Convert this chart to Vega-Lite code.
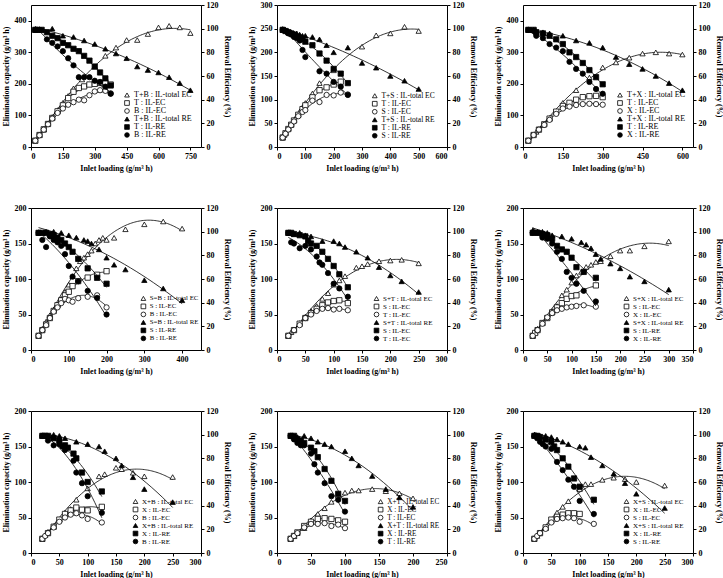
{
"$schema":"https://vega.github.io/schema/vega-lite/v6.json",
"padding":{"left":1,"top":0,"right":0,"bottom":0},
"background":"white",
"config":{
 "font":"Liberation Serif",
 "view":{"stroke":"black","strokeWidth":1},
 "axis":{"labelFont":"Liberation Serif","labelFontSize":8,"labelFontWeight":"bold","labelColor":"black","titleFont":"Liberation Serif","titleFontSize":8,"titleFontWeight":"bold","titleColor":"black","grid":false,"domain":false,"tickColor":"black","tickSize":3,"labelPadding":2,"titlePadding":4},
 "legend":{"labelFont":"Liberation Serif","labelFontSize":7,"labelColor":"black","symbolSize":22,"rowPadding":-6,"padding":0,"symbolStrokeWidth":0.8,"symbolStrokeColor":"black","labelOffset":3,"orient":"none","title":null},
 "line":{"color":"black","strokeWidth":0.8}
},
"columns":3,
"spacing":{"row":61,"column":76},
"bounds":"flush",
"resolve":{"scale":{"shape":"independent","fill":"independent","stroke":"independent"},"legend":{"shape":"independent","fill":"independent","stroke":"independent"}},
"concat":[
{"width":170,"height":142,
 "data":{"values":[
{"s":0,"x":20,"v":20},{"s":0,"x":40,"v":38},{"s":0,"x":60,"v":55},{"s":0,"x":80,"v":75},{"s":0,"x":100,"v":95},{"s":0,"x":125,"v":117},{"s":0,"x":150,"v":140},{"s":0,"x":175,"v":162},{"s":0,"x":200,"v":186},{"s":0,"x":240,"v":214},{"s":0,"x":300,"v":255},{"s":0,"x":350,"v":289},{"s":0,"x":400,"v":315},{"s":0,"x":450,"v":339},{"s":0,"x":500,"v":339},{"s":0,"x":550,"v":358},{"s":0,"x":600,"v":379},{"s":0,"x":650,"v":384},{"s":0,"x":700,"v":379},{"s":0,"x":750,"v":361},
{"s":1,"x":20,"v":20},{"s":1,"x":40,"v":38},{"s":1,"x":60,"v":56},{"s":1,"x":80,"v":73},{"s":1,"x":100,"v":92},{"s":1,"x":125,"v":113},{"s":1,"x":150,"v":132},{"s":1,"x":175,"v":155},{"s":1,"x":200,"v":175},{"s":1,"x":225,"v":187},{"s":1,"x":250,"v":192},{"s":1,"x":275,"v":198},{"s":1,"x":300,"v":200},{"s":1,"x":325,"v":203},{"s":1,"x":350,"v":205},{"s":1,"x":375,"v":198},
{"s":2,"x":20,"v":20},{"s":2,"x":40,"v":37},{"s":2,"x":60,"v":55},{"s":2,"x":80,"v":72},{"s":2,"x":100,"v":90},{"s":2,"x":125,"v":108},{"s":2,"x":150,"v":122},{"s":2,"x":175,"v":134},{"s":2,"x":200,"v":142},{"s":2,"x":225,"v":150},{"s":2,"x":250,"v":148},{"s":2,"x":275,"v":164},{"s":2,"x":300,"v":176},{"s":2,"x":325,"v":180},{"s":2,"x":350,"v":178},{"s":2,"x":375,"v":170},
{"s":3,"x":20,"v":99},{"s":3,"x":50,"v":99},{"s":3,"x":100,"v":100},{"s":3,"x":150,"v":94},{"s":3,"x":200,"v":93},{"s":3,"x":250,"v":90},{"s":3,"x":300,"v":87},{"s":3,"x":350,"v":83},{"s":3,"x":400,"v":79},{"s":3,"x":450,"v":75},{"s":3,"x":500,"v":68},{"s":3,"x":550,"v":65},{"s":3,"x":600,"v":63},{"s":3,"x":650,"v":59},{"s":3,"x":700,"v":54},{"s":3,"x":750,"v":48},
{"s":4,"x":20,"v":99},{"s":4,"x":30,"v":99},{"s":4,"x":50,"v":99},{"s":4,"x":75,"v":97},{"s":4,"x":100,"v":94},{"s":4,"x":125,"v":92},{"s":4,"x":150,"v":88},{"s":4,"x":175,"v":86},{"s":4,"x":200,"v":83},{"s":4,"x":225,"v":81},{"s":4,"x":250,"v":77},{"s":4,"x":275,"v":73},{"s":4,"x":300,"v":68},{"s":4,"x":325,"v":63},{"s":4,"x":350,"v":58},{"s":4,"x":375,"v":52},
{"s":5,"x":20,"v":99},{"s":5,"x":40,"v":99},{"s":5,"x":75,"v":91},{"s":5,"x":100,"v":88},{"s":5,"x":125,"v":85},{"s":5,"x":150,"v":81},{"s":5,"x":175,"v":75},{"s":5,"x":200,"v":69},{"s":5,"x":225,"v":59},{"s":5,"x":250,"v":59},{"s":5,"x":275,"v":59},{"s":5,"x":300,"v":56},{"s":5,"x":325,"v":55},{"s":5,"x":350,"v":51},{"s":5,"x":375,"v":45}
 ]},
 "encoding":{"x":{"field":"x","type":"quantitative","scale":{"domain":[0,800],"nice":false},"axis":{"values":[0,150,300,450,600,750],"title":"Inlet loading (g/m³ h)"}}},
 "layer":[
  {"encoding":{"y":{"field":"v","type":"quantitative","scale":{"domain":[0,450],"nice":false},"axis":{"orient":"left","values":[0,100,200,300,400],"title":"Elimination capacity (g/m³ h)"}}},
   "layer":[
    {"transform":[{"filter":"datum.s<3"},{"regression":"v","on":"x","groupby":["s"],"method":"poly","order":2}],"mark":{"type":"line"},"encoding":{"detail":{"field":"s","type":"nominal"}}},
    {"transform":[{"filter":"datum.s<3"}],"mark":{"type":"point","filled":true,"strokeWidth":0.8,"size":28,"opacity":1},
     "encoding":{"shape":{"field":"s","type":"nominal","scale":{"domain":[0,1,2,3,4,5],"range":["triangle-up","square","circle","triangle-up","square","circle"]},"legend":{"legendX":92,"legendY":86,"labelFontSize":8,"labelExpr":"['T+B : IL-total EC','T : IL-EC','B : IL-EC','T+B : IL-total RE','T : IL-RE','B : IL-RE'][datum.value]"}},
                 "fill":{"field":"s","type":"nominal","scale":{"domain":[0,1,2,3,4,5],"range":["white","white","white","black","black","black"]},"legend":{"legendX":92,"legendY":86,"labelFontSize":8,"labelExpr":"['T+B : IL-total EC','T : IL-EC','B : IL-EC','T+B : IL-total RE','T : IL-RE','B : IL-RE'][datum.value]"}},
                 "stroke":{"field":"s","type":"nominal","scale":{"domain":[0,1,2,3,4,5],"range":["black","black","black","black","black","black"]},"legend":{"legendX":92,"legendY":86,"labelFontSize":8,"labelExpr":"['T+B : IL-total EC','T : IL-EC','B : IL-EC','T+B : IL-total RE','T : IL-RE','B : IL-RE'][datum.value]"}}}},
    {"data":{"values":[{}]},"mark":{"type":"text","fontSize":8,"font":"Liberation Serif"},"encoding":{"x":{"datum":70},"y":{"datum":420},"text":{"value":"(a)"}}},
    {"data":{"values":[{}]},"mark":{"type":"text","fontSize":8,"fontWeight":"bold","font":"Liberation Serif"},"encoding":{"x":{"datum":405},"y":{"datum":420},"text":{"value":"T+B"}}}
   ]},
  {"encoding":{"y":{"field":"v","type":"quantitative","scale":{"domain":[0,120],"nice":false},"axis":{"orient":"right","values":[0,20,40,60,80,100,120],"title":"Removal Efficiency (%)"}}},
   "layer":[
    {"transform":[{"filter":"datum.s>=3"},{"regression":"v","on":"x","groupby":["s"],"method":"poly","order":2}],"mark":{"type":"line"},"encoding":{"detail":{"field":"s","type":"nominal"}}},
    {"transform":[{"filter":"datum.s>=3"}],"mark":{"type":"point","filled":true,"strokeWidth":0.8,"size":28,"opacity":1},
     "encoding":{"shape":{"field":"s","type":"nominal"},"fill":{"field":"s","type":"nominal"},"stroke":{"field":"s","type":"nominal"}}}
   ]}
 ],
 "resolve":{"scale":{"y":"independent"}}
},
{"width":170,"height":142,
 "data":{"values":[
{"s":0,"x":20,"v":20},{"s":0,"x":25,"v":25},{"s":0,"x":30,"v":30},{"s":0,"x":40,"v":39},{"s":0,"x":50,"v":48},{"s":0,"x":60,"v":57},{"s":0,"x":70,"v":66},{"s":0,"x":80,"v":75},{"s":0,"x":90,"v":84},{"s":0,"x":100,"v":93},{"s":0,"x":125,"v":113},{"s":0,"x":150,"v":135},{"s":0,"x":200,"v":162},{"s":0,"x":300,"v":212},{"s":0,"x":350,"v":236},{"s":0,"x":400,"v":240},{"s":0,"x":450,"v":254},{"s":0,"x":500,"v":245},
{"s":1,"x":20,"v":20},{"s":1,"x":30,"v":29},{"s":1,"x":40,"v":38},{"s":1,"x":50,"v":47},{"s":1,"x":60,"v":56},{"s":1,"x":75,"v":68},{"s":1,"x":90,"v":80},{"s":1,"x":100,"v":88},{"s":1,"x":125,"v":105},{"s":1,"x":150,"v":120},{"s":1,"x":175,"v":126},{"s":1,"x":200,"v":132},{"s":1,"x":225,"v":138},
{"s":2,"x":20,"v":20},{"s":2,"x":30,"v":28},{"s":2,"x":40,"v":37},{"s":2,"x":50,"v":46},{"s":2,"x":60,"v":54},{"s":2,"x":75,"v":65},{"s":2,"x":90,"v":74},{"s":2,"x":100,"v":78},{"s":2,"x":125,"v":98},{"s":2,"x":150,"v":95},{"s":2,"x":175,"v":110},{"s":2,"x":200,"v":109},{"s":2,"x":225,"v":115},{"s":2,"x":250,"v":111},
{"s":3,"x":20,"v":99},{"s":3,"x":30,"v":99},{"s":3,"x":40,"v":98},{"s":3,"x":50,"v":97},{"s":3,"x":60,"v":96},{"s":3,"x":70,"v":96},{"s":3,"x":80,"v":95},{"s":3,"x":90,"v":94},{"s":3,"x":100,"v":94},{"s":3,"x":125,"v":93},{"s":3,"x":150,"v":91},{"s":3,"x":175,"v":86},{"s":3,"x":200,"v":80},{"s":3,"x":250,"v":84},{"s":3,"x":300,"v":71},{"s":3,"x":350,"v":67},{"s":3,"x":400,"v":60},{"s":3,"x":450,"v":56},{"s":3,"x":500,"v":49},
{"s":4,"x":20,"v":99},{"s":4,"x":30,"v":98},{"s":4,"x":40,"v":97},{"s":4,"x":50,"v":96},{"s":4,"x":60,"v":95},{"s":4,"x":75,"v":93},{"s":4,"x":90,"v":91},{"s":4,"x":100,"v":89},{"s":4,"x":125,"v":86},{"s":4,"x":150,"v":79},{"s":4,"x":175,"v":73},{"s":4,"x":200,"v":66},{"s":4,"x":225,"v":62},{"s":4,"x":250,"v":54},
{"s":5,"x":20,"v":99},{"s":5,"x":30,"v":98},{"s":5,"x":40,"v":96},{"s":5,"x":50,"v":95},{"s":5,"x":60,"v":93},{"s":5,"x":70,"v":92},{"s":5,"x":80,"v":90},{"s":5,"x":90,"v":82},{"s":5,"x":100,"v":76},{"s":5,"x":150,"v":64},{"s":5,"x":175,"v":62},{"s":5,"x":200,"v":55},{"s":5,"x":225,"v":51},{"s":5,"x":250,"v":44}
 ]},
 "encoding":{"x":{"field":"x","type":"quantitative","scale":{"domain":[0,600],"nice":false},"axis":{"values":[0,100,200,300,400,500,600],"title":"Inlet loading (g/m³ h)"}}},
 "layer":[
  {"encoding":{"y":{"field":"v","type":"quantitative","scale":{"domain":[0,300],"nice":false},"axis":{"orient":"left","values":[0,50,100,150,200,250,300],"title":"Elimination capacity (g/m³ h)"}}},
   "layer":[
    {"transform":[{"filter":"datum.s<3"},{"regression":"v","on":"x","groupby":["s"],"method":"poly","order":2}],"mark":{"type":"line"},"encoding":{"detail":{"field":"s","type":"nominal"}}},
    {"transform":[{"filter":"datum.s<3"}],"mark":{"type":"point","filled":true,"strokeWidth":0.8,"size":28,"opacity":1},
     "encoding":{"shape":{"field":"s","type":"nominal","scale":{"domain":[0,1,2,3,4,5],"range":["triangle-up","square","circle","triangle-up","square","circle"]},"legend":{"legendX":94,"legendY":87,"labelFontSize":7.5,"labelExpr":"['T+S : IL-total EC','T : IL-EC','S : IL-EC','T+S : IL-total RE','T : IL-RE','S : IL-RE'][datum.value]"}},
                 "fill":{"field":"s","type":"nominal","scale":{"domain":[0,1,2,3,4,5],"range":["white","white","white","black","black","black"]},"legend":{"legendX":94,"legendY":87,"labelFontSize":7.5,"labelExpr":"['T+S : IL-total EC','T : IL-EC','S : IL-EC','T+S : IL-total RE','T : IL-RE','S : IL-RE'][datum.value]"}},
                 "stroke":{"field":"s","type":"nominal","scale":{"domain":[0,1,2,3,4,5],"range":["black","black","black","black","black","black"]},"legend":{"legendX":94,"legendY":87,"labelFontSize":7.5,"labelExpr":"['T+S : IL-total EC','T : IL-EC','S : IL-EC','T+S : IL-total RE','T : IL-RE','S : IL-RE'][datum.value]"}}}},
    {"data":{"values":[{}]},"mark":{"type":"text","fontSize":8,"font":"Liberation Serif"},"encoding":{"x":{"datum":53},"y":{"datum":281},"text":{"value":"(b)"}}},
    {"data":{"values":[{}]},"mark":{"type":"text","fontSize":8,"fontWeight":"bold","font":"Liberation Serif"},"encoding":{"x":{"datum":294},"y":{"datum":281},"text":{"value":"T+S"}}}
   ]},
  {"encoding":{"y":{"field":"v","type":"quantitative","scale":{"domain":[0,120],"nice":false},"axis":{"orient":"right","values":[0,20,40,60,80,100,120],"title":"Removal Efficiency (%)"}}},
   "layer":[
    {"transform":[{"filter":"datum.s>=3"},{"regression":"v","on":"x","groupby":["s"],"method":"poly","order":2}],"mark":{"type":"line"},"encoding":{"detail":{"field":"s","type":"nominal"}}},
    {"transform":[{"filter":"datum.s>=3"}],"mark":{"type":"point","filled":true,"strokeWidth":0.8,"size":28,"opacity":1},
     "encoding":{"shape":{"field":"s","type":"nominal"},"fill":{"field":"s","type":"nominal"},"stroke":{"field":"s","type":"nominal"}}}
   ]}
 ],
 "resolve":{"scale":{"y":"independent"}}
},
{"width":170,"height":142,
 "data":{"values":[
{"s":0,"x":20,"v":20},{"s":0,"x":50,"v":48},{"s":0,"x":75,"v":70},{"s":0,"x":100,"v":92},{"s":0,"x":125,"v":112},{"s":0,"x":150,"v":140},{"s":0,"x":200,"v":180},{"s":0,"x":250,"v":220},{"s":0,"x":300,"v":252},{"s":0,"x":350,"v":268},{"s":0,"x":400,"v":283},{"s":0,"x":450,"v":296},{"s":0,"x":500,"v":300},{"s":0,"x":550,"v":296},{"s":0,"x":600,"v":293},
{"s":1,"x":20,"v":20},{"s":1,"x":40,"v":38},{"s":1,"x":60,"v":55},{"s":1,"x":80,"v":72},{"s":1,"x":100,"v":90},{"s":1,"x":125,"v":112},{"s":1,"x":150,"v":130},{"s":1,"x":175,"v":140},{"s":1,"x":200,"v":150},{"s":1,"x":225,"v":158},{"s":1,"x":250,"v":161},{"s":1,"x":275,"v":162},{"s":1,"x":300,"v":158},
{"s":2,"x":20,"v":20},{"s":2,"x":40,"v":38},{"s":2,"x":60,"v":55},{"s":2,"x":80,"v":70},{"s":2,"x":100,"v":86},{"s":2,"x":125,"v":105},{"s":2,"x":150,"v":122},{"s":2,"x":175,"v":128},{"s":2,"x":200,"v":133},{"s":2,"x":225,"v":136},{"s":2,"x":250,"v":137},{"s":2,"x":275,"v":136},{"s":2,"x":300,"v":134},
{"s":3,"x":20,"v":99},{"s":3,"x":40,"v":99},{"s":3,"x":50,"v":98},{"s":3,"x":75,"v":97},{"s":3,"x":100,"v":96},{"s":3,"x":150,"v":94},{"s":3,"x":200,"v":90},{"s":3,"x":250,"v":88},{"s":3,"x":300,"v":84},{"s":3,"x":350,"v":76},{"s":3,"x":400,"v":70},{"s":3,"x":450,"v":66},{"s":3,"x":500,"v":60},{"s":3,"x":550,"v":54},{"s":3,"x":600,"v":48},
{"s":4,"x":20,"v":99},{"s":4,"x":40,"v":99},{"s":4,"x":50,"v":97},{"s":4,"x":75,"v":96},{"s":4,"x":100,"v":94},{"s":4,"x":125,"v":91},{"s":4,"x":150,"v":87},{"s":4,"x":175,"v":80},{"s":4,"x":200,"v":76},{"s":4,"x":225,"v":71},{"s":4,"x":250,"v":65},{"s":4,"x":275,"v":59},{"s":4,"x":300,"v":53},
{"s":5,"x":20,"v":99},{"s":5,"x":40,"v":98},{"s":5,"x":50,"v":94},{"s":5,"x":75,"v":92},{"s":5,"x":100,"v":87},{"s":5,"x":125,"v":84},{"s":5,"x":150,"v":81},{"s":5,"x":175,"v":72},{"s":5,"x":200,"v":66},{"s":5,"x":225,"v":62},{"s":5,"x":250,"v":55},{"s":5,"x":275,"v":49},{"s":5,"x":300,"v":45}
 ]},
 "encoding":{"x":{"field":"x","type":"quantitative","scale":{"domain":[0,640],"nice":false},"axis":{"values":[0,150,300,450,600],"title":"Inlet loading (g/m³ h)"}}},
 "layer":[
  {"encoding":{"y":{"field":"v","type":"quantitative","scale":{"domain":[0,450],"nice":false},"axis":{"orient":"left","values":[0,100,200,300,400],"title":"Elimination capacity (g/m³ h)"}}},
   "layer":[
    {"transform":[{"filter":"datum.s<3"},{"regression":"v","on":"x","groupby":["s"],"method":"poly","order":2}],"mark":{"type":"line"},"encoding":{"detail":{"field":"s","type":"nominal"}}},
    {"transform":[{"filter":"datum.s<3"}],"mark":{"type":"point","filled":true,"strokeWidth":0.8,"size":28,"opacity":1},
     "encoding":{"shape":{"field":"s","type":"nominal","scale":{"domain":[0,1,2,3,4,5],"range":["triangle-up","square","circle","triangle-up","square","circle"]},"legend":{"legendX":93,"legendY":86,"labelFontSize":8,"labelExpr":"['T+X : IL-total EC','T : IL-EC','X : IL-EC','T+X : IL-total RE','T : IL-RE','X : IL-RE'][datum.value]"}},
                 "fill":{"field":"s","type":"nominal","scale":{"domain":[0,1,2,3,4,5],"range":["white","white","white","black","black","black"]},"legend":{"legendX":93,"legendY":86,"labelFontSize":8,"labelExpr":"['T+X : IL-total EC','T : IL-EC','X : IL-EC','T+X : IL-total RE','T : IL-RE','X : IL-RE'][datum.value]"}},
                 "stroke":{"field":"s","type":"nominal","scale":{"domain":[0,1,2,3,4,5],"range":["black","black","black","black","black","black"]},"legend":{"legendX":93,"legendY":86,"labelFontSize":8,"labelExpr":"['T+X : IL-total EC','T : IL-EC','X : IL-EC','T+X : IL-total RE','T : IL-RE','X : IL-RE'][datum.value]"}}}},
    {"data":{"values":[{}]},"mark":{"type":"text","fontSize":8,"font":"Liberation Serif"},"encoding":{"x":{"datum":68},"y":{"datum":424},"text":{"value":"(c)"}}},
    {"data":{"values":[{}]},"mark":{"type":"text","fontSize":8,"fontWeight":"bold","font":"Liberation Serif"},"encoding":{"x":{"datum":335},"y":{"datum":418},"text":{"value":"T+X"}}}
   ]},
  {"encoding":{"y":{"field":"v","type":"quantitative","scale":{"domain":[0,120],"nice":false},"axis":{"orient":"right","values":[0,20,40,60,80,100,120],"title":"Removal Efficiency (%)"}}},
   "layer":[
    {"transform":[{"filter":"datum.s>=3"},{"regression":"v","on":"x","groupby":["s"],"method":"poly","order":2}],"mark":{"type":"line"},"encoding":{"detail":{"field":"s","type":"nominal"}}},
    {"transform":[{"filter":"datum.s>=3"}],"mark":{"type":"point","filled":true,"strokeWidth":0.8,"size":28,"opacity":1},
     "encoding":{"shape":{"field":"s","type":"nominal"},"fill":{"field":"s","type":"nominal"},"stroke":{"field":"s","type":"nominal"}}}
   ]}
 ],
 "resolve":{"scale":{"y":"independent"}}
},
{"width":170,"height":142,
 "data":{"values":[
{"s":0,"x":20,"v":20},{"s":0,"x":30,"v":30},{"s":0,"x":40,"v":40},{"s":0,"x":50,"v":49},{"s":0,"x":60,"v":57},{"s":0,"x":70,"v":64},{"s":0,"x":80,"v":72},{"s":0,"x":90,"v":82},{"s":0,"x":100,"v":92},{"s":0,"x":110,"v":104},{"s":0,"x":120,"v":115},{"s":0,"x":130,"v":125},{"s":0,"x":140,"v":130},{"s":0,"x":150,"v":135},{"s":0,"x":160,"v":140},{"s":0,"x":170,"v":150},{"s":0,"x":180,"v":155},{"s":0,"x":190,"v":158},{"s":0,"x":200,"v":155},{"s":0,"x":220,"v":158},{"s":0,"x":250,"v":170},{"s":0,"x":300,"v":177},{"s":0,"x":350,"v":181},{"s":0,"x":400,"v":171},
{"s":1,"x":20,"v":20},{"s":1,"x":30,"v":28},{"s":1,"x":40,"v":36},{"s":1,"x":50,"v":45},{"s":1,"x":60,"v":55},{"s":1,"x":70,"v":63},{"s":1,"x":80,"v":70},{"s":1,"x":90,"v":77},{"s":1,"x":100,"v":82},{"s":1,"x":110,"v":90},{"s":1,"x":125,"v":97},{"s":1,"x":150,"v":102},{"s":1,"x":175,"v":106},{"s":1,"x":200,"v":111},
{"s":2,"x":20,"v":20},{"s":2,"x":30,"v":28},{"s":2,"x":40,"v":35},{"s":2,"x":50,"v":45},{"s":2,"x":60,"v":54},{"s":2,"x":70,"v":60},{"s":2,"x":80,"v":66},{"s":2,"x":90,"v":72},{"s":2,"x":100,"v":70},{"s":2,"x":110,"v":68},{"s":2,"x":125,"v":73},{"s":2,"x":150,"v":75},{"s":2,"x":175,"v":77},{"s":2,"x":200,"v":60},
{"s":3,"x":20,"v":99},{"s":3,"x":40,"v":100},{"s":3,"x":60,"v":100},{"s":3,"x":80,"v":99},{"s":3,"x":100,"v":97},{"s":3,"x":120,"v":95},{"s":3,"x":140,"v":93},{"s":3,"x":150,"v":92},{"s":3,"x":160,"v":90},{"s":3,"x":180,"v":85},{"s":3,"x":200,"v":78},{"s":3,"x":220,"v":72},{"s":3,"x":250,"v":68},{"s":3,"x":300,"v":59},{"s":3,"x":350,"v":52},{"s":3,"x":400,"v":42},
{"s":4,"x":20,"v":99},{"s":4,"x":30,"v":99},{"s":4,"x":40,"v":99},{"s":4,"x":50,"v":98},{"s":4,"x":60,"v":97},{"s":4,"x":70,"v":95},{"s":4,"x":80,"v":93},{"s":4,"x":90,"v":90},{"s":4,"x":100,"v":87},{"s":4,"x":110,"v":83},{"s":4,"x":125,"v":77},{"s":4,"x":150,"v":69},{"s":4,"x":175,"v":61},{"s":4,"x":200,"v":56},
{"s":5,"x":20,"v":99},{"s":5,"x":30,"v":93},{"s":5,"x":40,"v":87},{"s":5,"x":50,"v":96},{"s":5,"x":60,"v":93},{"s":5,"x":70,"v":91},{"s":5,"x":80,"v":88},{"s":5,"x":90,"v":81},{"s":5,"x":100,"v":71},{"s":5,"x":110,"v":62},{"s":5,"x":125,"v":58},{"s":5,"x":150,"v":50},{"s":5,"x":175,"v":44},{"s":5,"x":200,"v":30}
 ]},
 "encoding":{"x":{"field":"x","type":"quantitative","scale":{"domain":[0,450],"nice":false},"axis":{"values":[0,100,200,300,400],"title":"Inlet loading (g/m³ h)"}}},
 "layer":[
  {"encoding":{"y":{"field":"v","type":"quantitative","scale":{"domain":[0,200],"nice":false},"axis":{"orient":"left","values":[0,50,100,150,200],"title":"Elimination capacity (g/m³ h)"}}},
   "layer":[
    {"transform":[{"filter":"datum.s<3"},{"regression":"v","on":"x","groupby":["s"],"method":"poly","order":2}],"mark":{"type":"line"},"encoding":{"detail":{"field":"s","type":"nominal"}}},
    {"transform":[{"filter":"datum.s<3"}],"mark":{"type":"point","filled":true,"strokeWidth":0.8,"size":28,"opacity":1},
     "encoding":{"shape":{"field":"s","type":"nominal","scale":{"domain":[0,1,2,3,4,5],"range":["triangle-up","square","circle","triangle-up","square","circle"]},"legend":{"legendX":109,"legendY":87,"labelFontSize":6.8,"labelExpr":"['S=B : IL-total EC','S : IL-EC','B : IL-EC','S=B : IL-total RE','S : IL-RE','B : IL-RE'][datum.value]"}},
                 "fill":{"field":"s","type":"nominal","scale":{"domain":[0,1,2,3,4,5],"range":["white","white","white","black","black","black"]},"legend":{"legendX":109,"legendY":87,"labelFontSize":6.8,"labelExpr":"['S=B : IL-total EC','S : IL-EC','B : IL-EC','S=B : IL-total RE','S : IL-RE','B : IL-RE'][datum.value]"}},
                 "stroke":{"field":"s","type":"nominal","scale":{"domain":[0,1,2,3,4,5],"range":["black","black","black","black","black","black"]},"legend":{"legendX":109,"legendY":87,"labelFontSize":6.8,"labelExpr":"['S=B : IL-total EC','S : IL-EC','B : IL-EC','S=B : IL-total RE','S : IL-RE','B : IL-RE'][datum.value]"}}}},
    {"data":{"values":[{}]},"mark":{"type":"text","fontSize":8,"font":"Liberation Serif"},"encoding":{"x":{"datum":57},"y":{"datum":189},"text":{"value":"(d)"}}},
    {"data":{"values":[{}]},"mark":{"type":"text","fontSize":8,"fontWeight":"bold","font":"Liberation Serif"},"encoding":{"x":{"datum":205},"y":{"datum":186},"text":{"value":"S+B"}}}
   ]},
  {"encoding":{"y":{"field":"v","type":"quantitative","scale":{"domain":[0,120],"nice":false},"axis":{"orient":"right","values":[0,20,40,60,80,100,120],"title":"Removal Efficiency (%)"}}},
   "layer":[
    {"transform":[{"filter":"datum.s>=3"},{"regression":"v","on":"x","groupby":["s"],"method":"poly","order":2}],"mark":{"type":"line"},"encoding":{"detail":{"field":"s","type":"nominal"}}},
    {"transform":[{"filter":"datum.s>=3"}],"mark":{"type":"point","filled":true,"strokeWidth":0.8,"size":28,"opacity":1},
     "encoding":{"shape":{"field":"s","type":"nominal"},"fill":{"field":"s","type":"nominal"},"stroke":{"field":"s","type":"nominal"}}}
   ]}
 ],
 "resolve":{"scale":{"y":"independent"}}
},
{"width":170,"height":142,
 "data":{"values":[
{"s":0,"x":20,"v":20},{"s":0,"x":25,"v":25},{"s":0,"x":30,"v":29},{"s":0,"x":40,"v":38},{"s":0,"x":50,"v":47},{"s":0,"x":60,"v":55},{"s":0,"x":70,"v":62},{"s":0,"x":80,"v":72},{"s":0,"x":90,"v":80},{"s":0,"x":100,"v":92},{"s":0,"x":110,"v":98},{"s":0,"x":120,"v":104},{"s":0,"x":140,"v":116},{"s":0,"x":150,"v":118},{"s":0,"x":160,"v":121},{"s":0,"x":180,"v":125},{"s":0,"x":200,"v":126},{"s":0,"x":220,"v":127},{"s":0,"x":250,"v":122},
{"s":1,"x":20,"v":20},{"s":1,"x":30,"v":28},{"s":1,"x":40,"v":37},{"s":1,"x":50,"v":45},{"s":1,"x":60,"v":52},{"s":1,"x":70,"v":58},{"s":1,"x":80,"v":63},{"s":1,"x":90,"v":67},{"s":1,"x":100,"v":69},{"s":1,"x":110,"v":70},{"s":1,"x":125,"v":66},
{"s":2,"x":20,"v":20},{"s":2,"x":30,"v":28},{"s":2,"x":40,"v":35},{"s":2,"x":50,"v":45},{"s":2,"x":60,"v":50},{"s":2,"x":70,"v":55},{"s":2,"x":80,"v":58},{"s":2,"x":90,"v":59},{"s":2,"x":100,"v":57},{"s":2,"x":110,"v":58},{"s":2,"x":125,"v":56},
{"s":3,"x":20,"v":99},{"s":3,"x":30,"v":98},{"s":3,"x":40,"v":99},{"s":3,"x":50,"v":97},{"s":3,"x":60,"v":96},{"s":3,"x":80,"v":92},{"s":3,"x":100,"v":92},{"s":3,"x":110,"v":90},{"s":3,"x":120,"v":87},{"s":3,"x":140,"v":83},{"s":3,"x":160,"v":78},{"s":3,"x":180,"v":70},{"s":3,"x":200,"v":63},{"s":3,"x":220,"v":58},{"s":3,"x":250,"v":49},
{"s":4,"x":20,"v":99},{"s":4,"x":25,"v":99},{"s":4,"x":30,"v":98},{"s":4,"x":40,"v":97},{"s":4,"x":50,"v":96},{"s":4,"x":55,"v":92},{"s":4,"x":60,"v":90},{"s":4,"x":70,"v":88},{"s":4,"x":80,"v":83},{"s":4,"x":90,"v":77},{"s":4,"x":100,"v":71},{"s":4,"x":110,"v":64},{"s":4,"x":125,"v":53},
{"s":5,"x":20,"v":99},{"s":5,"x":25,"v":91},{"s":5,"x":30,"v":90},{"s":5,"x":40,"v":86},{"s":5,"x":50,"v":88},{"s":5,"x":60,"v":85},{"s":5,"x":70,"v":79},{"s":5,"x":75,"v":74},{"s":5,"x":80,"v":72},{"s":5,"x":90,"v":65},{"s":5,"x":100,"v":56},{"s":5,"x":110,"v":52},{"s":5,"x":125,"v":45}
 ]},
 "encoding":{"x":{"field":"x","type":"quantitative","scale":{"domain":[0,300],"nice":false},"axis":{"values":[0,50,100,150,200,250,300],"title":"Inlet loading (g/m³ h)"}}},
 "layer":[
  {"encoding":{"y":{"field":"v","type":"quantitative","scale":{"domain":[0,200],"nice":false},"axis":{"orient":"left","values":[0,50,100,150,200],"title":"Elimination capacity (g/m³ h)"}}},
   "layer":[
    {"transform":[{"filter":"datum.s<3"},{"regression":"v","on":"x","groupby":["s"],"method":"poly","order":2}],"mark":{"type":"line"},"encoding":{"detail":{"field":"s","type":"nominal"}}},
    {"transform":[{"filter":"datum.s<3"}],"mark":{"type":"point","filled":true,"strokeWidth":0.8,"size":28,"opacity":1},
     "encoding":{"shape":{"field":"s","type":"nominal","scale":{"domain":[0,1,2,3,4,5],"range":["triangle-up","square","circle","triangle-up","square","circle"]},"legend":{"legendX":96,"legendY":87,"labelFontSize":7,"labelExpr":"['S+T : IL-total EC','S : IL-EC','T : IL-EC','S+T : IL-total RE','S : IL-EC','T : IL-EC'][datum.value]"}},
                 "fill":{"field":"s","type":"nominal","scale":{"domain":[0,1,2,3,4,5],"range":["white","white","white","black","black","black"]},"legend":{"legendX":96,"legendY":87,"labelFontSize":7,"labelExpr":"['S+T : IL-total EC','S : IL-EC','T : IL-EC','S+T : IL-total RE','S : IL-EC','T : IL-EC'][datum.value]"}},
                 "stroke":{"field":"s","type":"nominal","scale":{"domain":[0,1,2,3,4,5],"range":["black","black","black","black","black","black"]},"legend":{"legendX":96,"legendY":87,"labelFontSize":7,"labelExpr":"['S+T : IL-total EC','S : IL-EC','T : IL-EC','S+T : IL-total RE','S : IL-EC','T : IL-EC'][datum.value]"}}}},
    {"data":{"values":[{}]},"mark":{"type":"text","fontSize":8,"font":"Liberation Serif"},"encoding":{"x":{"datum":37},"y":{"datum":189},"text":{"value":"(e)"}}},
    {"data":{"values":[{}]},"mark":{"type":"text","fontSize":8,"fontWeight":"bold","font":"Liberation Serif"},"encoding":{"x":{"datum":160},"y":{"datum":185},"text":{"value":"S+T"}}}
   ]},
  {"encoding":{"y":{"field":"v","type":"quantitative","scale":{"domain":[0,120],"nice":false},"axis":{"orient":"right","values":[0,20,40,60,80,100,120],"title":"Removal Efficiency (%)"}}},
   "layer":[
    {"transform":[{"filter":"datum.s>=3"},{"regression":"v","on":"x","groupby":["s"],"method":"poly","order":2}],"mark":{"type":"line"},"encoding":{"detail":{"field":"s","type":"nominal"}}},
    {"transform":[{"filter":"datum.s>=3"}],"mark":{"type":"point","filled":true,"strokeWidth":0.8,"size":28,"opacity":1},
     "encoding":{"shape":{"field":"s","type":"nominal"},"fill":{"field":"s","type":"nominal"},"stroke":{"field":"s","type":"nominal"}}}
   ]}
 ],
 "resolve":{"scale":{"y":"independent"}}
},
{"width":170,"height":142,
 "data":{"values":[
{"s":0,"x":20,"v":20},{"s":0,"x":25,"v":25},{"s":0,"x":30,"v":30},{"s":0,"x":40,"v":38},{"s":0,"x":50,"v":46},{"s":0,"x":60,"v":55},{"s":0,"x":70,"v":62},{"s":0,"x":80,"v":77},{"s":0,"x":90,"v":85},{"s":0,"x":100,"v":95},{"s":0,"x":110,"v":105},{"s":0,"x":120,"v":110},{"s":0,"x":130,"v":117},{"s":0,"x":140,"v":120},{"s":0,"x":150,"v":124},{"s":0,"x":160,"v":125},{"s":0,"x":180,"v":132},{"s":0,"x":200,"v":140},{"s":0,"x":220,"v":140},{"s":0,"x":250,"v":146},{"s":0,"x":300,"v":153},
{"s":1,"x":20,"v":20},{"s":1,"x":25,"v":24},{"s":1,"x":30,"v":28},{"s":1,"x":40,"v":38},{"s":1,"x":50,"v":45},{"s":1,"x":60,"v":53},{"s":1,"x":70,"v":60},{"s":1,"x":80,"v":66},{"s":1,"x":90,"v":72},{"s":1,"x":100,"v":76},{"s":1,"x":110,"v":77},{"s":1,"x":150,"v":91},
{"s":2,"x":20,"v":20},{"s":2,"x":30,"v":28},{"s":2,"x":40,"v":37},{"s":2,"x":50,"v":46},{"s":2,"x":60,"v":52},{"s":2,"x":70,"v":56},{"s":2,"x":80,"v":58},{"s":2,"x":90,"v":60},{"s":2,"x":100,"v":61},{"s":2,"x":110,"v":62},{"s":2,"x":125,"v":63},{"s":2,"x":150,"v":61},
{"s":3,"x":20,"v":101},{"s":3,"x":30,"v":100},{"s":3,"x":40,"v":100},{"s":3,"x":50,"v":99},{"s":3,"x":60,"v":97},{"s":3,"x":80,"v":96},{"s":3,"x":100,"v":94},{"s":3,"x":120,"v":91},{"s":3,"x":130,"v":89},{"s":3,"x":140,"v":86},{"s":3,"x":150,"v":81},{"s":3,"x":160,"v":77},{"s":3,"x":180,"v":73},{"s":3,"x":200,"v":69},{"s":3,"x":220,"v":62},{"s":3,"x":250,"v":58},{"s":3,"x":300,"v":51},
{"s":4,"x":20,"v":99},{"s":4,"x":30,"v":99},{"s":4,"x":40,"v":98},{"s":4,"x":50,"v":97},{"s":4,"x":60,"v":94},{"s":4,"x":70,"v":88},{"s":4,"x":80,"v":85},{"s":4,"x":90,"v":83},{"s":4,"x":100,"v":78},{"s":4,"x":110,"v":70},{"s":4,"x":125,"v":66},{"s":4,"x":150,"v":61},
{"s":5,"x":20,"v":99},{"s":5,"x":30,"v":99},{"s":5,"x":40,"v":95},{"s":5,"x":50,"v":94},{"s":5,"x":60,"v":90},{"s":5,"x":70,"v":83},{"s":5,"x":80,"v":77},{"s":5,"x":90,"v":66},{"s":5,"x":100,"v":61},{"s":5,"x":110,"v":56},{"s":5,"x":125,"v":50},{"s":5,"x":150,"v":41}
 ]},
 "encoding":{"x":{"field":"x","type":"quantitative","scale":{"domain":[0,350],"nice":false},"axis":{"values":[0,50,100,150,200,250,300,350],"title":"Inlet loading (g/m³ h)"}}},
 "layer":[
  {"encoding":{"y":{"field":"v","type":"quantitative","scale":{"domain":[0,200],"nice":false},"axis":{"orient":"left","values":[0,50,100,150,200],"title":"Elimination capacity (g/m³ h)"}}},
   "layer":[
    {"transform":[{"filter":"datum.s<3"},{"regression":"v","on":"x","groupby":["s"],"method":"poly","order":2}],"mark":{"type":"line"},"encoding":{"detail":{"field":"s","type":"nominal"}}},
    {"transform":[{"filter":"datum.s<3"}],"mark":{"type":"point","filled":true,"strokeWidth":0.8,"size":28,"opacity":1},
     "encoding":{"shape":{"field":"s","type":"nominal","scale":{"domain":[0,1,2,3,4,5],"range":["triangle-up","square","circle","triangle-up","square","circle"]},"legend":{"legendX":100,"legendY":87,"labelFontSize":7,"labelExpr":"['S+X : IL-total EC','S : IL-EC','X : IL-EC','S+X : IL-total RE','S : IL-RE','X : IL-RE'][datum.value]"}},
                 "fill":{"field":"s","type":"nominal","scale":{"domain":[0,1,2,3,4,5],"range":["white","white","white","black","black","black"]},"legend":{"legendX":100,"legendY":87,"labelFontSize":7,"labelExpr":"['S+X : IL-total EC','S : IL-EC','X : IL-EC','S+X : IL-total RE','S : IL-RE','X : IL-RE'][datum.value]"}},
                 "stroke":{"field":"s","type":"nominal","scale":{"domain":[0,1,2,3,4,5],"range":["black","black","black","black","black","black"]},"legend":{"legendX":100,"legendY":87,"labelFontSize":7,"labelExpr":"['S+X : IL-total EC','S : IL-EC','X : IL-EC','S+X : IL-total RE','S : IL-RE','X : IL-RE'][datum.value]"}}}},
    {"data":{"values":[{}]},"mark":{"type":"text","fontSize":8,"font":"Liberation Serif"},"encoding":{"x":{"datum":43},"y":{"datum":189},"text":{"value":"(f)"}}},
    {"data":{"values":[{}]},"mark":{"type":"text","fontSize":8,"fontWeight":"bold","font":"Liberation Serif"},"encoding":{"x":{"datum":172},"y":{"datum":186},"text":{"value":"S+X"}}}
   ]},
  {"encoding":{"y":{"field":"v","type":"quantitative","scale":{"domain":[0,120],"nice":false},"axis":{"orient":"right","values":[0,20,40,60,80,100,120],"title":"Removal Efficiency (%)"}}},
   "layer":[
    {"transform":[{"filter":"datum.s>=3"},{"regression":"v","on":"x","groupby":["s"],"method":"poly","order":2}],"mark":{"type":"line"},"encoding":{"detail":{"field":"s","type":"nominal"}}},
    {"transform":[{"filter":"datum.s>=3"}],"mark":{"type":"point","filled":true,"strokeWidth":0.8,"size":28,"opacity":1},
     "encoding":{"shape":{"field":"s","type":"nominal"},"fill":{"field":"s","type":"nominal"},"stroke":{"field":"s","type":"nominal"}}}
   ]}
 ],
 "resolve":{"scale":{"y":"independent"}}
},
{"width":170,"height":142,
 "data":{"values":[
{"s":0,"x":20,"v":20},{"s":0,"x":25,"v":25},{"s":0,"x":30,"v":30},{"s":0,"x":40,"v":38},{"s":0,"x":50,"v":47},{"s":0,"x":60,"v":57},{"s":0,"x":70,"v":62},{"s":0,"x":80,"v":75},{"s":0,"x":100,"v":91},{"s":0,"x":120,"v":108},{"s":0,"x":130,"v":111},{"s":0,"x":150,"v":120},{"s":0,"x":160,"v":118},{"s":0,"x":180,"v":113},{"s":0,"x":200,"v":108},{"s":0,"x":250,"v":107},
{"s":1,"x":20,"v":20},{"s":1,"x":30,"v":28},{"s":1,"x":40,"v":37},{"s":1,"x":50,"v":47},{"s":1,"x":60,"v":55},{"s":1,"x":70,"v":60},{"s":1,"x":80,"v":64},{"s":1,"x":90,"v":61},{"s":1,"x":100,"v":60},{"s":1,"x":125,"v":65},
{"s":2,"x":20,"v":20},{"s":2,"x":25,"v":24},{"s":2,"x":30,"v":28},{"s":2,"x":40,"v":36},{"s":2,"x":50,"v":44},{"s":2,"x":60,"v":50},{"s":2,"x":70,"v":54},{"s":2,"x":80,"v":56},{"s":2,"x":90,"v":53},{"s":2,"x":100,"v":48},{"s":2,"x":125,"v":43},
{"s":3,"x":20,"v":99},{"s":3,"x":30,"v":99},{"s":3,"x":40,"v":100},{"s":3,"x":50,"v":99},{"s":3,"x":60,"v":97},{"s":3,"x":80,"v":94},{"s":3,"x":100,"v":92},{"s":3,"x":120,"v":90},{"s":3,"x":130,"v":86},{"s":3,"x":150,"v":80},{"s":3,"x":160,"v":74},{"s":3,"x":180,"v":64},{"s":3,"x":200,"v":54},{"s":3,"x":250,"v":43},
{"s":4,"x":20,"v":99},{"s":4,"x":25,"v":99},{"s":4,"x":30,"v":99},{"s":4,"x":40,"v":97},{"s":4,"x":50,"v":95},{"s":4,"x":60,"v":91},{"s":4,"x":65,"v":89},{"s":4,"x":75,"v":84},{"s":4,"x":80,"v":80},{"s":4,"x":90,"v":68},{"s":4,"x":100,"v":60},{"s":4,"x":125,"v":52},
{"s":5,"x":20,"v":99},{"s":5,"x":30,"v":95},{"s":5,"x":40,"v":91},{"s":5,"x":50,"v":92},{"s":5,"x":55,"v":90},{"s":5,"x":60,"v":87},{"s":5,"x":75,"v":78},{"s":5,"x":80,"v":68},{"s":5,"x":90,"v":59},{"s":5,"x":100,"v":48},{"s":5,"x":125,"v":34}
 ]},
 "encoding":{"x":{"field":"x","type":"quantitative","scale":{"domain":[0,300],"nice":false},"axis":{"values":[0,50,100,150,200,250,300],"title":"Inlet loading (g/m³ h)"}}},
 "layer":[
  {"encoding":{"y":{"field":"v","type":"quantitative","scale":{"domain":[0,200],"nice":false},"axis":{"orient":"left","values":[0,50,100,150,200],"title":"Elimination capacity (g/m³ h)"}}},
   "layer":[
    {"transform":[{"filter":"datum.s<3"},{"regression":"v","on":"x","groupby":["s"],"method":"poly","order":2}],"mark":{"type":"line"},"encoding":{"detail":{"field":"s","type":"nominal"}}},
    {"transform":[{"filter":"datum.s<3"}],"mark":{"type":"point","filled":true,"strokeWidth":0.8,"size":28,"opacity":1},
     "encoding":{"shape":{"field":"s","type":"nominal","scale":{"domain":[0,1,2,3,4,5],"range":["triangle-up","square","circle","triangle-up","square","circle"]},"legend":{"legendX":101,"legendY":87,"labelFontSize":7,"labelExpr":"['X+B : IL-total EC','X : IL-EC','B : IL-EC','X+B : IL-total RE','X : IL-RE','B : IL-RE'][datum.value]"}},
                 "fill":{"field":"s","type":"nominal","scale":{"domain":[0,1,2,3,4,5],"range":["white","white","white","black","black","black"]},"legend":{"legendX":101,"legendY":87,"labelFontSize":7,"labelExpr":"['X+B : IL-total EC','X : IL-EC','B : IL-EC','X+B : IL-total RE','X : IL-RE','B : IL-RE'][datum.value]"}},
                 "stroke":{"field":"s","type":"nominal","scale":{"domain":[0,1,2,3,4,5],"range":["black","black","black","black","black","black"]},"legend":{"legendX":101,"legendY":87,"labelFontSize":7,"labelExpr":"['X+B : IL-total EC','X : IL-EC','B : IL-EC','X+B : IL-total RE','X : IL-RE','B : IL-RE'][datum.value]"}}}},
    {"data":{"values":[{}]},"mark":{"type":"text","fontSize":8,"font":"Liberation Serif"},"encoding":{"x":{"datum":33},"y":{"datum":188},"text":{"value":"(g)"}}},
    {"data":{"values":[{}]},"mark":{"type":"text","fontSize":8,"fontWeight":"bold","font":"Liberation Serif"},"encoding":{"x":{"datum":149},"y":{"datum":186},"text":{"value":"X+B"}}}
   ]},
  {"encoding":{"y":{"field":"v","type":"quantitative","scale":{"domain":[0,120],"nice":false},"axis":{"orient":"right","values":[0,20,40,60,80,100,120],"title":"Removal Efficiency (%)"}}},
   "layer":[
    {"transform":[{"filter":"datum.s>=3"},{"regression":"v","on":"x","groupby":["s"],"method":"poly","order":2}],"mark":{"type":"line"},"encoding":{"detail":{"field":"s","type":"nominal"}}},
    {"transform":[{"filter":"datum.s>=3"}],"mark":{"type":"point","filled":true,"strokeWidth":0.8,"size":28,"opacity":1},
     "encoding":{"shape":{"field":"s","type":"nominal"},"fill":{"field":"s","type":"nominal"},"stroke":{"field":"s","type":"nominal"}}}
   ]}
 ],
 "resolve":{"scale":{"y":"independent"}}
},
{"width":170,"height":142,
 "data":{"values":[
{"s":0,"x":20,"v":20},{"s":0,"x":25,"v":24},{"s":0,"x":30,"v":28},{"s":0,"x":40,"v":35},{"s":0,"x":50,"v":46},{"s":0,"x":60,"v":55},{"s":0,"x":70,"v":63},{"s":0,"x":80,"v":72},{"s":0,"x":100,"v":85},{"s":0,"x":110,"v":88},{"s":0,"x":120,"v":88},{"s":0,"x":140,"v":90},{"s":0,"x":160,"v":87},{"s":0,"x":180,"v":84},{"s":0,"x":200,"v":77},
{"s":1,"x":20,"v":20},{"s":1,"x":25,"v":24},{"s":1,"x":30,"v":29},{"s":1,"x":40,"v":38},{"s":1,"x":50,"v":44},{"s":1,"x":60,"v":48},{"s":1,"x":70,"v":49},{"s":1,"x":80,"v":48},{"s":1,"x":90,"v":46},{"s":1,"x":100,"v":44},
{"s":2,"x":20,"v":20},{"s":2,"x":25,"v":24},{"s":2,"x":30,"v":28},{"s":2,"x":40,"v":36},{"s":2,"x":50,"v":41},{"s":2,"x":60,"v":41},{"s":2,"x":70,"v":42},{"s":2,"x":80,"v":38},{"s":2,"x":90,"v":40},{"s":2,"x":100,"v":35},
{"s":3,"x":20,"v":99},{"s":3,"x":25,"v":98},{"s":3,"x":30,"v":98},{"s":3,"x":40,"v":99},{"s":3,"x":50,"v":97},{"s":3,"x":60,"v":94},{"s":3,"x":70,"v":92},{"s":3,"x":80,"v":90},{"s":3,"x":100,"v":86},{"s":3,"x":110,"v":80},{"s":3,"x":120,"v":74},{"s":3,"x":140,"v":65},{"s":3,"x":160,"v":54},{"s":3,"x":180,"v":47},{"s":3,"x":200,"v":39},
{"s":4,"x":20,"v":99},{"s":4,"x":25,"v":99},{"s":4,"x":30,"v":96},{"s":4,"x":35,"v":95},{"s":4,"x":40,"v":93},{"s":4,"x":50,"v":89},{"s":4,"x":55,"v":86},{"s":4,"x":60,"v":81},{"s":4,"x":70,"v":71},{"s":4,"x":80,"v":61},{"s":4,"x":90,"v":50},{"s":4,"x":100,"v":44},
{"s":5,"x":20,"v":99},{"s":5,"x":25,"v":96},{"s":5,"x":30,"v":93},{"s":5,"x":35,"v":91},{"s":5,"x":40,"v":91},{"s":5,"x":50,"v":84},{"s":5,"x":55,"v":75},{"s":5,"x":60,"v":68},{"s":5,"x":70,"v":59},{"s":5,"x":80,"v":48},{"s":5,"x":90,"v":45},{"s":5,"x":100,"v":35}
 ]},
 "encoding":{"x":{"field":"x","type":"quantitative","scale":{"domain":[0,250],"nice":false},"axis":{"values":[0,50,100,150,200,250],"title":"Inlet loading (g/m³ h)"}}},
 "layer":[
  {"encoding":{"y":{"field":"v","type":"quantitative","scale":{"domain":[0,200],"nice":false},"axis":{"orient":"left","values":[0,50,100,150,200],"title":"Elimination capacity (g/m³ h)"}}},
   "layer":[
    {"transform":[{"filter":"datum.s<3"},{"regression":"v","on":"x","groupby":["s"],"method":"poly","order":2}],"mark":{"type":"line"},"encoding":{"detail":{"field":"s","type":"nominal"}}},
    {"transform":[{"filter":"datum.s<3"}],"mark":{"type":"point","filled":true,"strokeWidth":0.8,"size":28,"opacity":1},
     "encoding":{"shape":{"field":"s","type":"nominal","scale":{"domain":[0,1,2,3,4,5],"range":["triangle-up","square","circle","triangle-up","square","circle"]},"legend":{"legendX":100,"legendY":87,"labelFontSize":7.2,"labelExpr":"['X+T : IL-total EC','X : IL-EC','T : IL-EC','X+T : IL-total RE','X : IL-RE','T : IL-RE'][datum.value]"}},
                 "fill":{"field":"s","type":"nominal","scale":{"domain":[0,1,2,3,4,5],"range":["white","white","white","black","black","black"]},"legend":{"legendX":100,"legendY":87,"labelFontSize":7.2,"labelExpr":"['X+T : IL-total EC','X : IL-EC','T : IL-EC','X+T : IL-total RE','X : IL-RE','T : IL-RE'][datum.value]"}},
                 "stroke":{"field":"s","type":"nominal","scale":{"domain":[0,1,2,3,4,5],"range":["black","black","black","black","black","black"]},"legend":{"legendX":100,"legendY":87,"labelFontSize":7.2,"labelExpr":"['X+T : IL-total EC','X : IL-EC','T : IL-EC','X+T : IL-total RE','X : IL-RE','T : IL-RE'][datum.value]"}}}},
    {"data":{"values":[{}]},"mark":{"type":"text","fontSize":8,"font":"Liberation Serif"},"encoding":{"x":{"datum":27},"y":{"datum":187},"text":{"value":"(h)"}}},
    {"data":{"values":[{}]},"mark":{"type":"text","fontSize":8,"fontWeight":"bold","font":"Liberation Serif"},"encoding":{"x":{"datum":132},"y":{"datum":185},"text":{"value":"X+T"}}}
   ]},
  {"encoding":{"y":{"field":"v","type":"quantitative","scale":{"domain":[0,120],"nice":false},"axis":{"orient":"right","values":[0,20,40,60,80,100,120],"title":"Removal Efficiency (%)"}}},
   "layer":[
    {"transform":[{"filter":"datum.s>=3"},{"regression":"v","on":"x","groupby":["s"],"method":"poly","order":2}],"mark":{"type":"line"},"encoding":{"detail":{"field":"s","type":"nominal"}}},
    {"transform":[{"filter":"datum.s>=3"}],"mark":{"type":"point","filled":true,"strokeWidth":0.8,"size":28,"opacity":1},
     "encoding":{"shape":{"field":"s","type":"nominal"},"fill":{"field":"s","type":"nominal"},"stroke":{"field":"s","type":"nominal"}}}
   ]}
 ],
 "resolve":{"scale":{"y":"independent"}}
},
{"width":170,"height":142,
 "data":{"values":[
{"s":0,"x":20,"v":20},{"s":0,"x":25,"v":24},{"s":0,"x":30,"v":29},{"s":0,"x":40,"v":35},{"s":0,"x":50,"v":45},{"s":0,"x":60,"v":57},{"s":0,"x":70,"v":65},{"s":0,"x":80,"v":73},{"s":0,"x":100,"v":90},{"s":0,"x":110,"v":97},{"s":0,"x":120,"v":97},{"s":0,"x":140,"v":103},{"s":0,"x":160,"v":106},{"s":0,"x":180,"v":104},{"s":0,"x":200,"v":100},{"s":0,"x":250,"v":95},
{"s":1,"x":20,"v":20},{"s":1,"x":30,"v":28},{"s":1,"x":40,"v":36},{"s":1,"x":50,"v":47},{"s":1,"x":60,"v":51},{"s":1,"x":70,"v":54},{"s":1,"x":80,"v":56},{"s":1,"x":90,"v":56},{"s":1,"x":100,"v":55},
{"s":2,"x":20,"v":20},{"s":2,"x":25,"v":24},{"s":2,"x":30,"v":28},{"s":2,"x":40,"v":34},{"s":2,"x":50,"v":43},{"s":2,"x":60,"v":48},{"s":2,"x":70,"v":49},{"s":2,"x":80,"v":50},{"s":2,"x":90,"v":49},{"s":2,"x":100,"v":44},{"s":2,"x":125,"v":41},
{"s":3,"x":20,"v":100},{"s":3,"x":25,"v":99},{"s":3,"x":30,"v":99},{"s":3,"x":40,"v":99},{"s":3,"x":50,"v":98},{"s":3,"x":60,"v":96},{"s":3,"x":70,"v":94},{"s":3,"x":80,"v":92},{"s":3,"x":100,"v":90},{"s":3,"x":110,"v":89},{"s":3,"x":120,"v":81},{"s":3,"x":140,"v":74},{"s":3,"x":160,"v":67},{"s":3,"x":180,"v":59},{"s":3,"x":200,"v":50},{"s":3,"x":250,"v":38},
{"s":4,"x":20,"v":99},{"s":4,"x":25,"v":99},{"s":4,"x":30,"v":98},{"s":4,"x":40,"v":96},{"s":4,"x":50,"v":94},{"s":4,"x":55,"v":90},{"s":4,"x":60,"v":87},{"s":4,"x":70,"v":80},{"s":4,"x":80,"v":73},{"s":4,"x":90,"v":63},{"s":4,"x":100,"v":56},{"s":4,"x":125,"v":45},
{"s":5,"x":20,"v":99},{"s":5,"x":25,"v":97},{"s":5,"x":30,"v":94},{"s":5,"x":35,"v":92},{"s":5,"x":40,"v":90},{"s":5,"x":50,"v":88},{"s":5,"x":60,"v":77},{"s":5,"x":70,"v":70},{"s":5,"x":80,"v":62},{"s":5,"x":90,"v":56},{"s":5,"x":100,"v":44},{"s":5,"x":125,"v":33}
 ]},
 "encoding":{"x":{"field":"x","type":"quantitative","scale":{"domain":[0,300],"nice":false},"axis":{"values":[0,50,100,150,200,250,300],"title":"Inlet loading (g/m³ h)"}}},
 "layer":[
  {"encoding":{"y":{"field":"v","type":"quantitative","scale":{"domain":[0,200],"nice":false},"axis":{"orient":"left","values":[0,50,100,150,200],"title":"Elimination capacity (g/m³ h)"}}},
   "layer":[
    {"transform":[{"filter":"datum.s<3"},{"regression":"v","on":"x","groupby":["s"],"method":"poly","order":2}],"mark":{"type":"line"},"encoding":{"detail":{"field":"s","type":"nominal"}}},
    {"transform":[{"filter":"datum.s<3"}],"mark":{"type":"point","filled":true,"strokeWidth":0.8,"size":28,"opacity":1},
     "encoding":{"shape":{"field":"s","type":"nominal","scale":{"domain":[0,1,2,3,4,5],"range":["triangle-up","square","circle","triangle-up","square","circle"]},"legend":{"legendX":100,"legendY":87,"labelFontSize":7,"labelExpr":"['X+S : IL-total EC','X : IL-EC','S : IL-EC','X+S : IL-total RE','X : IL-RE','S : IL-RE'][datum.value]"}},
                 "fill":{"field":"s","type":"nominal","scale":{"domain":[0,1,2,3,4,5],"range":["white","white","white","black","black","black"]},"legend":{"legendX":100,"legendY":87,"labelFontSize":7,"labelExpr":"['X+S : IL-total EC','X : IL-EC','S : IL-EC','X+S : IL-total RE','X : IL-RE','S : IL-RE'][datum.value]"}},
                 "stroke":{"field":"s","type":"nominal","scale":{"domain":[0,1,2,3,4,5],"range":["black","black","black","black","black","black"]},"legend":{"legendX":100,"legendY":87,"labelFontSize":7,"labelExpr":"['X+S : IL-total EC','X : IL-EC','S : IL-EC','X+S : IL-total RE','X : IL-RE','S : IL-RE'][datum.value]"}}}},
    {"data":{"values":[{}]},"mark":{"type":"text","fontSize":8,"font":"Liberation Serif"},"encoding":{"x":{"datum":37},"y":{"datum":187},"text":{"value":"(i)"}}},
    {"data":{"values":[{}]},"mark":{"type":"text","fontSize":8,"fontWeight":"bold","font":"Liberation Serif"},"encoding":{"x":{"datum":164},"y":{"datum":186},"text":{"value":"X+S"}}}
   ]},
  {"encoding":{"y":{"field":"v","type":"quantitative","scale":{"domain":[0,120],"nice":false},"axis":{"orient":"right","values":[0,20,40,60,80,100,120],"title":"Removal Efficiency (%)"}}},
   "layer":[
    {"transform":[{"filter":"datum.s>=3"},{"regression":"v","on":"x","groupby":["s"],"method":"poly","order":2}],"mark":{"type":"line"},"encoding":{"detail":{"field":"s","type":"nominal"}}},
    {"transform":[{"filter":"datum.s>=3"}],"mark":{"type":"point","filled":true,"strokeWidth":0.8,"size":28,"opacity":1},
     "encoding":{"shape":{"field":"s","type":"nominal"},"fill":{"field":"s","type":"nominal"},"stroke":{"field":"s","type":"nominal"}}}
   ]}
 ],
 "resolve":{"scale":{"y":"independent"}}
}
]
}
